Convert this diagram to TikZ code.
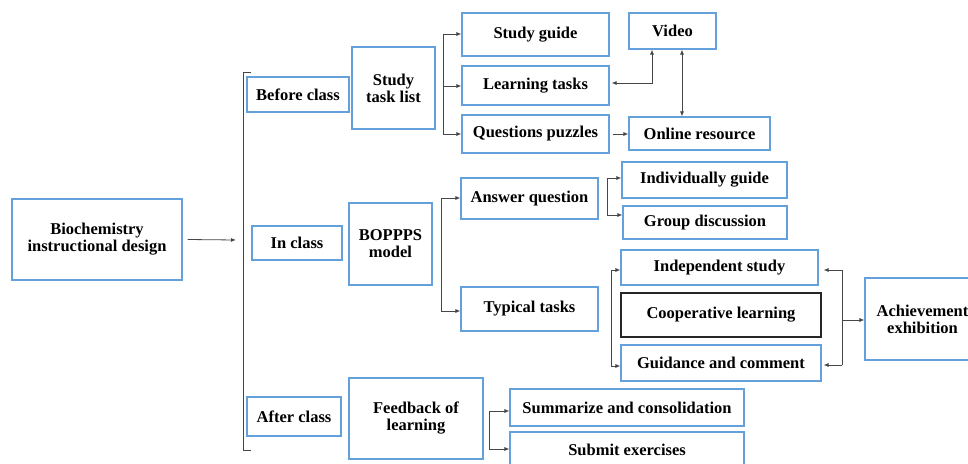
\documentclass[tikz,border=0pt]{standalone}
\usepackage{fontspec}
\setmainfont{Liberation Serif}
\usetikzlibrary{arrows.meta}
\definecolor{boxblue}{RGB}{100,160,220}
\definecolor{linegray}{RGB}{70,70,70}
\tikzset{
  bx/.style={draw=boxblue, line width=1.1pt, align=center, inner sep=0pt,
    font=\fontsize{16.5}{17}\selectfont\bfseries, text=black},
  bxk/.style={bx, draw=black!85},
  con/.style={draw=linegray, line width=0.8pt},
  arr/.style={con, -{Latex[length=5pt,width=4pt]}},
  darr/.style={con, {Latex[length=5pt,width=4pt]}-{Latex[length=5pt,width=4pt]}},
}
\begin{document}
\begin{tikzpicture}[x=1pt,y=-1pt]
\useasboundingbox (0,0) rectangle (968,463);
% nodes
\node[bx, minimum width=170, minimum height=81] (main) at (97,239.5) {Biochemistry\\instructional design};
\node[bx, minimum width=102, minimum height=35] (before) at (298,94.5) {Before class};
\node[bx, minimum width=90, minimum height=34] (inclass) at (297,243) {In class};
\node[bx, minimum width=94, minimum height=39] (after) at (294,416.5) {After class};
\node[bx, minimum width=83, minimum height=82] (stl) at (393.5,88) {Study\\task list};
\node[bx, minimum width=147, minimum height=43] (sg) at (535.5,34.5) {Study guide};
\node[bx, minimum width=147, minimum height=39] (lt) at (535.5,85.5) {Learning tasks};
\node[bx, minimum width=147, minimum height=38] (qp) at (535.5,134) {Questions puzzles};
\node[bx, minimum width=87, minimum height=36] (video) at (672.5,31) {Video};
\node[bx, minimum width=141, minimum height=33] (online) at (699.5,133.5) {Online resource};
\node[bx, minimum width=83, minimum height=82] (bop) at (390.5,244) {BOPPPS\\model};
\node[bx, minimum width=137, minimum height=41] (aq) at (529.5,198.5) {Answer question};
\node[bx, minimum width=137, minimum height=44] (tt) at (529.5,309) {Typical tasks};
\node[bx, minimum width=165, minimum height=36] (ig) at (704.5,180) {Individually guide};
\node[bx, minimum width=164, minimum height=33] (gd) at (705,222.5) {Group discussion};
\node[bx, minimum width=197, minimum height=35] (is) at (719.5,267.5) {Independent study};
\node[bxk, minimum width=200, minimum height=44] (cl) at (721,315) {Cooperative learning};
\node[bx, minimum width=200, minimum height=36] (gc) at (721,363) {Guidance and comment};
\node[bx, minimum width=115, minimum height=82] (ach) at (922.5,319) {Achievement\\exhibition};
\node[bx, minimum width=134, minimum height=81] (fb) at (416,418.5) {Feedback of\\learning};
\node[bx, minimum width=234, minimum height=37] (sc) at (627,407.5) {Summarize and consolidation};
\node[bx, minimum width=234, minimum height=36] (se) at (627,450) {Submit exercises};
% main arrow and bracket
\coordinate (brk) at (236,240);
\draw[arr] ([xshift=5pt]main.east) -- (brk);
\draw[con] (251,72) -- (243,72) -- (243,450) -- (251,450);
% study task list branch
\draw[arr] (443,86) -- (lt.west |- 0,86);
\draw[con] (443,34) -- (443,134);
\draw[arr] (443,34) -- (sg.west |- 0,34);
\draw[arr] (443,134) -- (qp.west |- 0,134);
% video links
\draw[darr] ([xshift=2pt]lt.east |- 0,83) -- (652,83) -- (video.south -| 652,0);
\draw[darr] (video.south -| 682,0) -- (online.north -| 682,0);
\draw[arr] ([xshift=3pt]qp.east) -- (online.west |- qp.east);
% BOPPPS branch
\draw[con] (441,198) -- (441,311);
\draw[arr] (441,198) -- (aq.west |- 0,198);
\draw[arr] (441,311) -- (tt.west |- 0,311);
% answer question branch
\draw[con] (607,178) -- (607,215);
\draw[arr] (607,178) -- (ig.west |- 0,178);
\draw[arr] (607,215) -- (gd.west |- 0,215);
% typical tasks bracket
\draw[con] (611,270) -- (611,366);
\draw[arr] (611,270) -- (is.west |- 0,270);
\draw[arr] (611,366) -- (gc.west |- 0,366);
% achievement bracket
\draw[con] (842,270) -- (842,365);
\draw[arr] (842,270) -- ([xshift=2pt]gc.east |- 0,270);
\draw[arr] (842,365) -- ([xshift=2pt]gc.east |- 0,365);
\draw[arr] (842,320) -- (ach.west |- 0,320);
% feedback branch
\draw[con] (489,411) -- (489,449);
\draw[arr] (489,411) -- (sc.west |- 0,411);
\draw[arr] (489,449) -- (se.west |- 0,449);
\end{tikzpicture}
\end{document}
